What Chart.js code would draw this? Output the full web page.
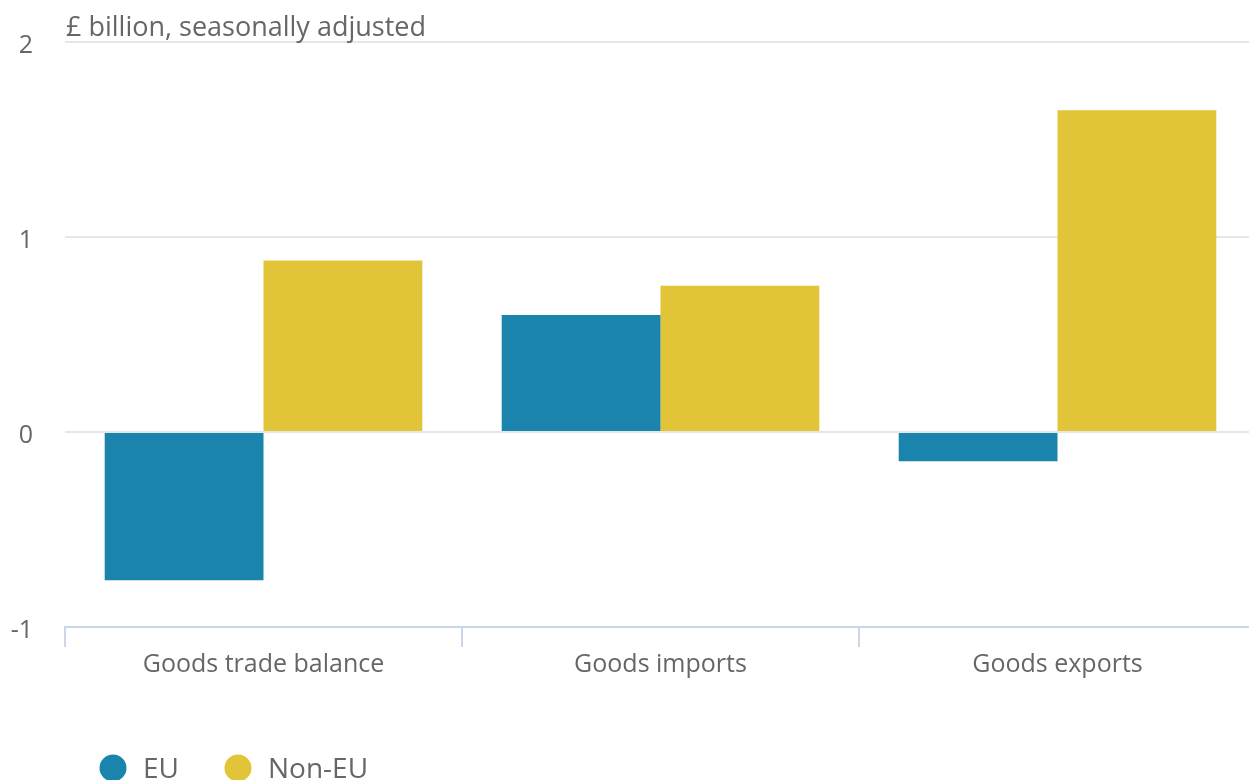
<!DOCTYPE html>
<html>
<head>
<meta charset="utf-8">
<title>Goods trade, EU and non-EU</title>
<script src="https://cdn.jsdelivr.net/npm/chart.js@4.4.1/dist/chart.umd.min.js"></script>
<style>
  html, body { margin: 0; padding: 0; background: #fff; overflow: hidden; }
  #wrap { position: relative; width: 1256px; height: 780px; }
</style>
</head>
<body>
<div id="wrap"><canvas id="tradeChart"></canvas></div>
<script>
const categories = ["Goods trade balance", "Goods imports", "Goods exports"];
const euValues = [-0.76, 0.60, -0.15];
const nonEuValues = [0.88, 0.75, 1.65];
const yTicks = [-1, 0, 1, 2];
const unitLabel = "£ billion, seasonally adjusted";

const FONT = "'Open Sans', 'Noto Sans', sans-serif";
const TEXT = "#666666";

// unit text above the plot, left aligned with the plot area
const unitTitle = {
    id: "unitTitle",
    afterDraw(chart) {
        const { ctx, chartArea } = chart;
        ctx.save();
        ctx.font = "27px " + FONT;
        ctx.fillStyle = TEXT;
        ctx.textAlign = "left";
        ctx.textBaseline = "alphabetic";
        ctx.fillText(unitLabel, chartArea.left + 1, chartArea.top - 6);
        ctx.restore();
    },
};

// round-marker legend along the bottom edge
const dotLegend = {
    id: "dotLegend",
    afterDraw(chart) {
        const { ctx } = chart;
        const y = chart.height - 12;
        let x = 113;
        ctx.save();
        ctx.font = "28px " + FONT;
        ctx.textBaseline = "middle";
        chart.data.datasets.forEach((ds) => {
            ctx.fillStyle = ds.backgroundColor;
            ctx.beginPath();
            ctx.arc(x, y, 13.5, 0, Math.PI * 2);
            ctx.fill();
            ctx.fillStyle = TEXT;
            ctx.fillText(ds.label, x + 30, y + 2);
            x += 30 + ctx.measureText(ds.label).width + 59;
        });
        ctx.restore();
    },
};

new Chart(document.getElementById("tradeChart"), {
    type: "bar",
    data: {
        labels: categories,
        datasets: [
            {
                label: "EU",
                data: euValues,
                backgroundColor: "#1b84ad",
                categoryPercentage: 0.8,
                barPercentage: 1,
            },
            {
                label: "Non-EU",
                data: nonEuValues,
                backgroundColor: "#e2c438",
                categoryPercentage: 0.8,
                barPercentage: 1,
            },
        ],
    },
    options: {
        responsive: true,
        maintainAspectRatio: false,
        animation: false,
        layout: { padding: { top: 42, bottom: 97, left: 0, right: 0 } },
        plugins: {
            legend: { display: false },
            tooltip: { enabled: false },
        },
        scales: {
            x: {
                grid: {
                    offset: true,
                    drawOnChartArea: false,
                    drawTicks: true,
                    tickLength: 20,
                    color: "#ccd6eb",
                    lineWidth: 2,
                },
                border: { display: true, color: "#ccd6eb", width: 2 },
                ticks: {
                    color: TEXT,
                    font: { family: FONT, size: 25 },
                    padding: 3,
                    maxRotation: 0,
                },
            },
            y: {
                min: -1,
                max: 2,
                afterBuildTicks: (scale) => {
                    scale.ticks = yTicks.map((v) => ({ value: v }));
                },
                afterFit: (scale) => {
                    scale.width = 65;
                    scale.paddingTop = 0;
                    scale.paddingBottom = 0;
                },
                grid: {
                    color: (c) => (c.tick && c.tick.value === -1 ? "rgba(0,0,0,0)" : "#e6e6e6"),
                    lineWidth: 2,
                    drawTicks: false,
                },
                border: { display: false },
                ticks: {
                    color: TEXT,
                    font: { family: FONT, size: 25 },
                    padding: 32,
                    labelOffset: 4,
                },
            },
        },
    },
    plugins: [unitTitle, dotLegend],
});
</script>
</body>
</html>
